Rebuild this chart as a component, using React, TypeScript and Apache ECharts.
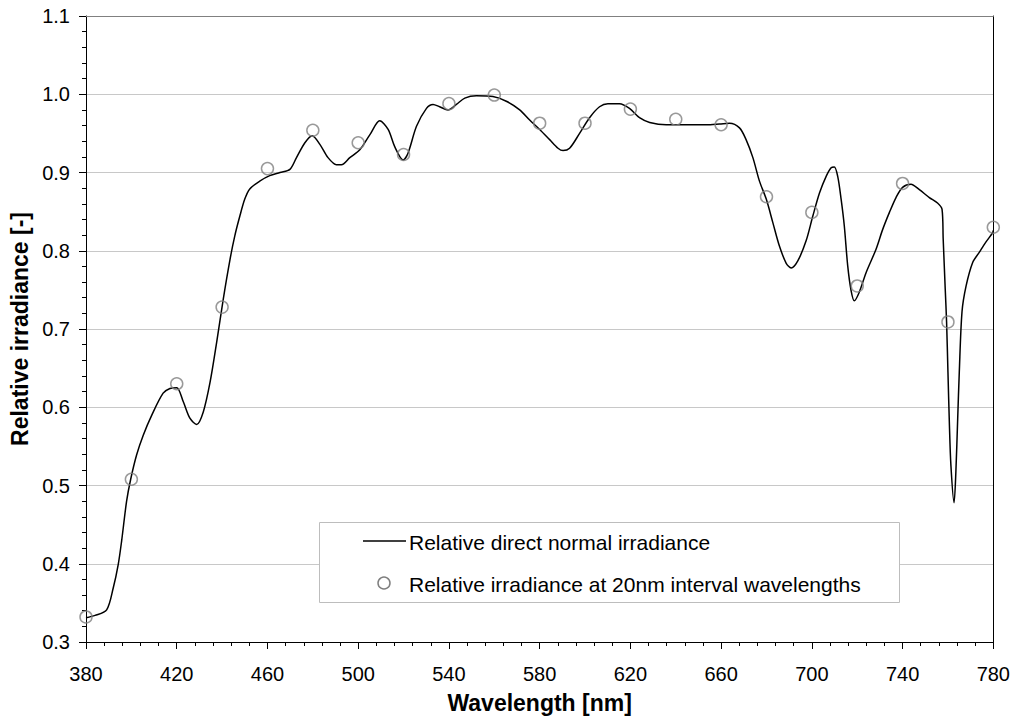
import React, { useEffect, useRef } from "react";
import * as echarts from "echarts";

const wavelengths = [
  380, 384, 389.1, 392, 394.2, 395.7, 397.9, 399.7, 402.3, 405.2, 409, 414, 417, 420, 422.9, 425.8,
  428.8, 431.7, 434.7, 437.6, 440.5, 443.5, 445.6, 447.8, 450, 452.2, 456.6, 461, 465.5, 469.9,
  472.8, 476.5, 479.7, 483.1, 486.7, 490.4, 492.6, 496.3, 500.7, 505.1, 509.5, 513.2, 516.1,
  519.8, 522, 525.7, 530.1, 533, 535.9, 539.6, 543.3, 547, 552.1, 559.4, 565.3, 571.2, 575.6,
  580, 584.4, 588.1, 590.3, 593.2, 597.6, 602, 606.4, 610.1, 615.2, 619.6, 624, 628.5, 635.8,
  644.6, 653.4, 659.3, 663.7, 668.1, 671, 674, 676.9, 679.9, 682.8, 685.7, 688.7, 690.9, 693.8,
  697.5, 700.4, 703.4, 706.3, 708.5, 709.9, 711.4, 712.9, 714.3, 715.8, 717.3, 718.7, 720.9,
  723.9, 728.3, 731.2, 734.2, 737.1, 740, 743.7, 747.4, 751.8, 755.4, 757.4, 757.9, 758.8,
  759.4, 760, 760.6, 761.3, 762.7, 763.5, 764.3, 765, 766.2, 768, 770.9, 773.8, 776.7, 779.7, 780,
];
const irradiance = [
  0.331, 0.334, 0.341, 0.369, 0.399, 0.429, 0.48, 0.508, 0.539, 0.564, 0.59, 0.618, 0.624, 0.625,
  0.607, 0.586, 0.578, 0.594, 0.632, 0.683, 0.738, 0.789, 0.819, 0.844, 0.866, 0.879, 0.889, 0.896,
  0.9, 0.904, 0.919, 0.938, 0.947, 0.936, 0.919, 0.91, 0.91, 0.919, 0.929, 0.948, 0.966, 0.955,
  0.933, 0.916, 0.925, 0.959, 0.982, 0.987, 0.984, 0.98, 0.987, 0.995, 0.998, 0.997, 0.991, 0.98,
  0.967, 0.955, 0.942, 0.931, 0.928, 0.931, 0.95, 0.97, 0.984, 0.988, 0.988, 0.982, 0.97, 0.964,
  0.961, 0.961, 0.961, 0.962, 0.963, 0.957, 0.942, 0.919, 0.889, 0.866, 0.836, 0.806, 0.784, 0.778,
  0.787, 0.813, 0.844, 0.874, 0.895, 0.906, 0.907, 0.895, 0.866, 0.832, 0.781, 0.749, 0.736, 0.747,
  0.772, 0.802, 0.827, 0.849, 0.868, 0.881, 0.885, 0.878, 0.868, 0.861, 0.853, 0.815, 0.751, 0.709,
  0.645, 0.582, 0.526, 0.478, 0.518, 0.586, 0.645, 0.722, 0.755, 0.785, 0.798, 0.811, 0.823, 0.826,
];

const sampleWavelengths = [
  380, 400, 420, 440, 460, 480, 500, 520, 540, 560, 580, 600, 620, 640, 660, 680, 700, 720, 740,
  760, 780,
];
const sampleValues = [
  0.332, 0.508, 0.63, 0.728, 0.905, 0.954, 0.938, 0.923, 0.988, 0.999, 0.963, 0.963, 0.981, 0.968,
  0.961, 0.869, 0.849, 0.755, 0.886, 0.709, 0.83,
];

const lineName = "Relative direct normal irradiance";
const sampleName = "Relative irradiance at 20nm interval wavelengths";
const xTitle = "Wavelength [nm]";
const yTitle = "Relative irradiance [-]";

const FONT = "'Liberation Sans', Arial, sans-serif";

export default function App() {
  const ref = useRef<HTMLDivElement>(null);
  useEffect(() => {
    if (!ref.current) return;
    const chart = echarts.init(ref.current, null, { renderer: "svg" });
    const lineData = wavelengths.map((w, i) => [w, irradiance[i]]);
    const sampleData = sampleWavelengths.map((w, i) => [w, sampleValues[i]]);
    chart.setOption({
      animation: false,
      backgroundColor: "#ffffff",
      textStyle: { fontFamily: FONT },
      grid: { left: 86, right: 19, top: 16, bottom: 74, containLabel: false },
      xAxis: [
        {
          type: "value",
          min: 380,
          max: 780,
          interval: 40,
          name: xTitle,
          nameLocation: "middle",
          nameGap: 49,
          nameTextStyle: { fontFamily: FONT, fontSize: 23, fontWeight: "bold", color: "#000" },
          axisLine: { show: true, onZero: false, lineStyle: { color: "#000", width: 1 } },
          axisTick: { show: true, inside: false, length: 7, lineStyle: { color: "#000" } },
          minorTick: { show: true, splitNumber: 5, length: 4, lineStyle: { color: "#000" } },
          axisLabel: { fontFamily: FONT, fontSize: 20, color: "#000", margin: 22 },
          splitLine: { show: false },
        },
        {
          type: "value",
          position: "top",
          min: 380,
          max: 780,
          interval: 40,
          axisLine: { show: true, onZero: false, lineStyle: { color: "#808080", width: 1 } },
          axisTick: { show: false },
          axisLabel: { show: false },
          splitLine: { show: false },
        },
      ],
      yAxis: [
        {
          type: "value",
          min: 0.3,
          max: 1.1,
          interval: 0.1,
          name: yTitle,
          nameLocation: "middle",
          nameGap: 52,
          nameTextStyle: { fontFamily: FONT, fontSize: 23, fontWeight: "bold", color: "#000" },
          axisLine: { show: true, onZero: false, lineStyle: { color: "#000", width: 1 } },
          axisTick: { show: true, inside: false, length: 7, lineStyle: { color: "#000" } },
          minorTick: { show: true, splitNumber: 5, length: 4, lineStyle: { color: "#000" } },
          axisLabel: {
            fontFamily: FONT,
            fontSize: 20,
            color: "#000",
            margin: 16,
            formatter: (v: number) => v.toFixed(1),
          },
          splitLine: { show: true, lineStyle: { color: "#c8c8c8", width: 1 } },
        },
        {
          type: "value",
          position: "right",
          min: 0.3,
          max: 1.1,
          interval: 0.1,
          axisLine: { show: true, onZero: false, lineStyle: { color: "#000", width: 1 } },
          axisTick: { show: false },
          axisLabel: { show: false },
          splitLine: { show: false },
        },
      ],
      series: [
        {
          name: lineName,
          type: "line",
          xAxisIndex: 0,
          yAxisIndex: 0,
          data: lineData,
          showSymbol: false,
          smooth: 0.3,
          lineStyle: { color: "#000", width: 1.5 },
          z: 3,
        },
        {
          name: sampleName,
          type: "scatter",
          xAxisIndex: 0,
          yAxisIndex: 0,
          data: sampleData,
          symbol: "circle",
          symbolSize: 12,
          itemStyle: { color: "rgba(0,0,0,0)", borderColor: "#7f7f7f", borderWidth: 1.5 },
          z: 4,
        },
      ],
      graphic: [
        {
          type: "rect",
          shape: { x: 319.5, y: 522.5, width: 580, height: 80 },
          style: { fill: "#ffffff", stroke: "#bdbdbd", lineWidth: 1 },
          z: 10,
        },
        {
          type: "line",
          shape: { x1: 363, y1: 541, x2: 406, y2: 541 },
          style: { stroke: "#000", lineWidth: 1.5 },
          z: 11,
        },
        {
          type: "text",
          x: 409,
          y: 542,
          style: {
            text: lineName,
            fontFamily: FONT,
            fontSize: 21,
            fill: "#000",
            verticalAlign: "middle",
            align: "left",
          },
          z: 11,
        },
        {
          type: "circle",
          shape: { cx: 384, cy: 583, r: 6 },
          style: { fill: "none", stroke: "#7f7f7f", lineWidth: 1.5 },
          z: 11,
        },
        {
          type: "text",
          x: 409,
          y: 584,
          style: {
            text: sampleName,
            fontFamily: FONT,
            fontSize: 21,
            fill: "#000",
            verticalAlign: "middle",
            align: "left",
          },
          z: 11,
        },
      ],
    });
    return () => chart.dispose();
  }, []);
  return (
    <div
      ref={ref}
      style={{ position: "fixed", left: 0, top: 0, width: 1013, height: 719, background: "#fff" }}
    />
  );
}
